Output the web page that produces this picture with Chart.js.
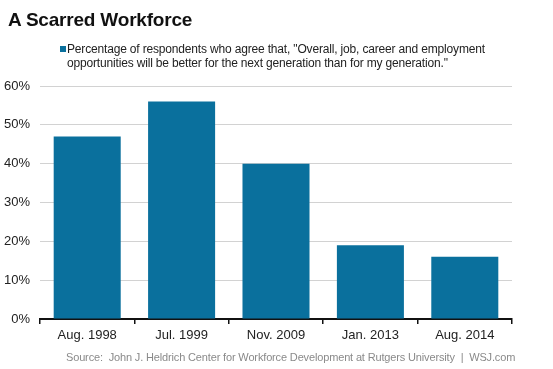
<!DOCTYPE html>
<html>
<head>
<meta charset="utf-8">
<script src="https://cdn.jsdelivr.net/npm/chart.js@4"></script>
<style>
	body { margin: 0; background: #fff; font-family: "Liberation Sans", Arial, sans-serif; }
	#wrap { position: relative; width: 553px; height: 369px; overflow: hidden; }
	#myChart { position: absolute; left: 0; top: 0; }
	.title { position: absolute; left: 8px; top: 9px; font-size: 19px; font-weight: bold; color: #111; letter-spacing: -0.2px; }
	.legend { position: absolute; left: 67px; top: 42px; font-size: 12px; line-height: 14px; color: #222; letter-spacing: -0.17px; }
	.legend .sw { position: absolute; left: -7px; top: 4px; width: 6px; height: 6px; background: #0a709d; }
	.source { position: absolute; left: 66px; top: 351px; font-size: 11px; color: #8a8a8a; white-space: pre; letter-spacing: -0.15px; }
</style>
</head>
<body>
<div id="wrap">
	<canvas id="myChart" width="553" height="369"></canvas>
	<div class="title">A Scarred Workforce</div>
	<div class="legend"><span class="sw"></span>Percentage of respondents who agree that, "Overall, job, career and employment<br>opportunities will be better for the next generation than for my generation."</div>
	<div class="source">Source:  John J. Heldrich Center for Workforce Development at Rutgers University  |  WSJ.com</div>
</div>
<script>
(() => {
	'use strict'

	const categories = ['Aug. 1998', 'Jul. 1999', 'Nov. 2009', 'Jan. 2013', 'Aug. 2014'];
	const agreeShare = [47, 56, 40, 19, 16];
	const barColor = '#0a709d';

	const ctx = document.getElementById('myChart');

	new Chart(ctx, {
		type: 'bar',
		data: {
			labels: categories,
			datasets: [{
				data: agreeShare,
				backgroundColor: barColor,
				borderWidth: 0,
				barPercentage: 0.71,
				categoryPercentage: 1
			}]
		},
		options: {
			responsive: false,
			animation: false,
			layout: {
				padding: { left: 0, right: 41, top: 86, bottom: 0 }
			},
			plugins: {
				legend: { display: false },
				tooltip: { enabled: false }
			},
			scales: {
				x: {
					afterFit: function(scale) { scale.height = 50; },
					border: { display: true, color: '#111', width: 2 },
					grid: {
						offset: true,
						drawOnChartArea: false,
						drawTicks: true,
						tickLength: 5,
						color: '#111',
						lineWidth: 1.5
					},
					ticks: {
						color: '#222',
						padding: 4,
						font: { family: '"Liberation Sans", Arial', size: 13 }
					}
				},
				y: {
					min: 0,
					max: 60,
					afterFit: function(scale) { scale.width = 40; },
					border: { display: false },
					grid: {
						color: '#d2d2d2',
						lineWidth: 1,
						drawTicks: false
					},
					ticks: {
						stepSize: 10,
						padding: 10,
						color: '#222',
						font: { family: '"Liberation Sans", Arial', size: 13 },
						callback: function(value) {
							return value + '%';
						}
					}
				}
			}
		}
	})
})()
</script>
</body>
</html>
